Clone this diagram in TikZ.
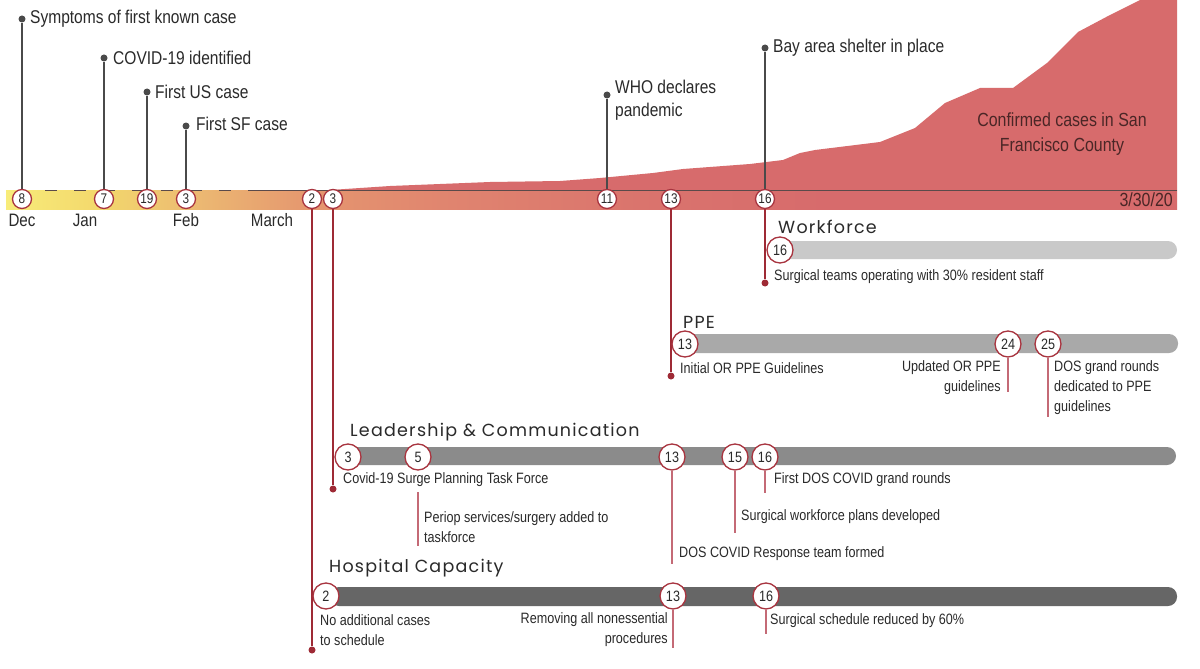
\documentclass[tikz,border=0pt]{standalone}
\usepackage{fontspec}
\setmainfont[FakeStretch=0.84]{Liberation Sans}
\newfontfamily\titlefont[LetterSpace=7.0]{Poppins}
\pgfdeclarelayer{bg}
\pgfsetlayers{bg,main}
\definecolor{areared}{HTML}{D76B6C}
\definecolor{circred}{HTML}{A8343F}
\definecolor{stemred}{HTML}{9E2A35}
\definecolor{thinred}{HTML}{C46A76}
\definecolor{stemgray}{HTML}{4A4A4A}
\definecolor{axisgray}{HTML}{5A4A4A}
\definecolor{txt}{HTML}{2A2A2A}
\definecolor{conftxt}{HTML}{4A2626}
\definecolor{barA}{HTML}{C9C9C9}
\definecolor{barB}{HTML}{A9A9A9}
\definecolor{barC}{HTML}{8B8B8B}
\definecolor{barD}{HTML}{666666}
\definecolor{b1}{HTML}{F8EC7A}
\definecolor{b2}{HTML}{F3D86C}
\definecolor{b3}{HTML}{ECBA72}
\definecolor{b4}{HTML}{E5966F}
\definecolor{b5}{HTML}{E0846F}
\definecolor{b6}{HTML}{DA746D}
\definecolor{b7}{HTML}{D76B6C}
\pgfdeclarehorizontalshading{band}{100bp}{color(0bp)=(b1); color(25bp)=(b1); color(29bp)=(b2); color(33bp)=(b3); color(38bp)=(b4); color(44bp)=(b5); color(52bp)=(b6); color(60bp)=(b7); color(100bp)=(b7)}
\tikzset{
  mainc/.style={circle, draw=circred, fill=white, line width=1.3pt, minimum size=19pt, inner sep=0pt, font=\fontsize{14}{14}\selectfont, text=txt},
  catc/.style={mainc, minimum size=26pt, font=\fontsize{15}{15}\selectfont},
  gdot/.style={circle, fill=stemgray, inner sep=0pt, minimum size=7pt},
  rdot/.style={circle, fill=stemred, inner sep=0pt, minimum size=7pt},
  toplab/.style={anchor=west, font=\fontsize{18.5}{23}\selectfont, text=txt, inner sep=0pt, align=left},
  lab/.style={font=\fontsize{15}{20}\selectfont, text=txt, inner sep=0pt},
  month/.style={font=\fontsize{18}{18}\selectfont, text=txt, inner sep=0pt},
  cattitle/.style={anchor=west, font=\titlefont\fontsize{17.5}{17.5}\selectfont, text=txt, inner sep=0pt},
  graystem/.style={draw=stemgray, line width=2pt},
  redstem/.style={draw=stemred, line width=2.2pt},
  thinstem/.style={draw=thinred, line width=1.3pt},
  bar/.style={rounded corners=9pt}
}
\begin{document}
\begin{tikzpicture}[x=1pt,y=-1pt]
\useasboundingbox (0,0) rectangle (1200,669);

% ---------- main axis circles ----------
\node[mainc] (m8)  at (22,199)  {8};
\node[mainc] (m7)  at (104,199) {7};
\node[mainc] (m19) at (147,199) {19};
\node[mainc] (m3f) at (186,199) {3};
\node[mainc] (m2)  at (312,199) {2};
\node[mainc] (m3)  at (333,199) {3};
\node[mainc] (m11) at (607,199) {11};
\node[mainc] (m13) at (671,199) {13};
\node[mainc] (m16) at (765,199) {16};

% ---------- top events ----------
\node[gdot] (d8)  at (22,19)  {};
\node[toplab] at (30,19) {Symptoms of first known case};
\node[gdot] (d7)  at (104,58) {};
\node[toplab] at (113,58) {COVID-19 identified};
\node[gdot] (d19) at (147,92) {};
\node[toplab] at (155,92) {First US case};
\node[gdot] (d3f) at (186,126) {};
\node[toplab] at (196,124) {First SF case};
\node[gdot] (d11) at (607,95) {};
\node[toplab] at (615,100) {WHO declares\\pandemic};
\node[gdot] (d16) at (765,48) {};
\node[toplab] at (773,48) {Bay area shelter in place};

\node[font=\fontsize{19}{25}\selectfont, text=conftxt, align=center, inner sep=0pt] (conf) at (1062,134) {Confirmed cases in San\\Francisco County};

% months
\node[month] (dec) at (22,220) {Dec};
\node[month] (jan) at (85,220) {Jan};
\node[month] (feb) at (186,220) {Feb};
\node[month] (mar) at (272,220) {March};
\node[font=\fontsize{19}{19}\selectfont, text=conftxt, inner sep=0pt, anchor=east] (end) at (1173,200) {3/30/20};

% ---------- Workforce ----------
\node[cattitle] (tw) at (778,227) {Workforce};
\node[catc] (w16) at (780,250) {16};
\node[rdot] (rw) at (765,283) {};
\node[lab, anchor=west] at (774,277) {Surgical teams operating with 30\% resident staff};

% ---------- PPE ----------
\node[cattitle] (tp) at (683,322) {PPE};
\node[catc] (p13) at (685,344) {13};
\node[catc] (p24) at (1008,344) {24};
\node[catc] (p25) at (1048,344) {25};
\node[rdot] (rp) at (671,376) {};
\coordinate (e24) at (1008,392);
\coordinate (e25) at (1048,417);
\node[lab, anchor=west] at (680,368) {Initial OR PPE Guidelines};
\node[lab, anchor=east, align=right] at (1001,378) {Updated OR PPE\\guidelines};
\node[lab, anchor=west, align=left] at (1054,388) {DOS grand rounds\\dedicated to PPE\\guidelines};

% ---------- Leadership ----------
\node[cattitle] (tl) at (350,432) {Leadership \& Communication};
\node[catc] (l3)  at (348,457) {3};
\node[catc] (l5)  at (418,457) {5};
\node[catc] (l13) at (672,457) {13};
\node[catc] (l15) at (735,457) {15};
\node[catc] (l16) at (765,457) {16};
\node[rdot] (rl) at (333,489) {};
\coordinate (s5)  at (418,492);
\coordinate (e5)  at (418,546);
\coordinate (e13) at (672,564);
\coordinate (e15) at (735,533);
\coordinate (e16) at (765,493);
\node[lab, anchor=west] at (343,480) {Covid-19 Surge Planning Task Force};
\node[lab, anchor=west, align=left] at (424,527) {Periop services/surgery added to\\taskforce};
\node[lab, anchor=west] at (679,554) {DOS COVID Response team formed};
\node[lab, anchor=west] at (741,517) {Surgical workforce plans developed};
\node[lab, anchor=west] at (774,480) {First DOS COVID grand rounds};

% ---------- Hospital capacity ----------
\node[cattitle] (th) at (329,568) {Hospital Capacity};
\node[catc] (h2)  at (326,596) {2};
\node[catc] (h13) at (673,596) {13};
\node[catc] (h16) at (766,596) {16};
\node[rdot] (rh) at (312,650) {};
\coordinate (eh13) at (673,648);
\coordinate (eh16) at (766,634);
\node[lab, anchor=west, align=left] at (320,630) {No additional cases\\to schedule};
\node[lab, anchor=east, align=right] at (668,630) {Removing all nonessential\\procedures};
\node[lab, anchor=west] at (770,621) {Surgical schedule reduced by 60\%};

% ---------- background layer ----------
\begin{pgfonlayer}{bg}
  \fill[white] (0,0) rectangle (1200,669);
  \fill[areared] (250,190) -- (330,190) -- (390,186) -- (490,182) -- (560,181) -- (600,178) -- (653,173) -- (683,169) -- (750,164) -- (783,160) -- (800,153) -- (815,150) -- (880,142) -- (915,128) -- (945,103) -- (980,88) -- (1013,88) -- (1047,63) -- (1078,32) -- (1110,15) -- (1140,0) -- (1177,0) -- (1177,190) -- cycle;
  \shade[shading=band] (6,190) rectangle (1177,209);
  \draw[axisgray, line width=1.3pt, dash pattern=on 12pt off 17pt] (45,190.5) -- (248,190.5);
  \draw[axisgray, line width=1.3pt] (248,190.5) -- (1177,190.5);
  % bars
  \fill[barA, bar] (775,241) rectangle (1177,259);
  \fill[barB, bar] (680,334) rectangle (1178,353);
  \fill[barC, bar] (340,447) rectangle (1176,465);
  \fill[barD, bar] (330,587) rectangle (1177,606);
  % top stems
  \draw[graystem] (m8) -- (d8);
  \draw[graystem] (m7) -- (d7);
  \draw[graystem] (m19) -- (d19);
  \draw[graystem] (m3f) -- (d3f);
  \draw[graystem] (m11) -- (d11);
  \draw[graystem] (m16) -- (d16);
  % red stems
  \draw[redstem] (m16) -- (rw);
  \draw[redstem] (m13) -- (rp);
  \draw[redstem] (m3) -- (rl);
  \draw[redstem] (m2) -- (rh);
  % thin stems
  \draw[thinstem] (p24) -- (e24);
  \draw[thinstem] (p25) -- (e25);
  \draw[thinstem] (s5) -- (e5);
  \draw[thinstem] (l13) -- (e13);
  \draw[thinstem] (l15) -- (e15);
  \draw[thinstem] (l16) -- (e16);
  \draw[thinstem] (h13) -- (eh13);
  \draw[thinstem] (h16) -- (eh16);
\end{pgfonlayer}
\end{tikzpicture}
\end{document}
